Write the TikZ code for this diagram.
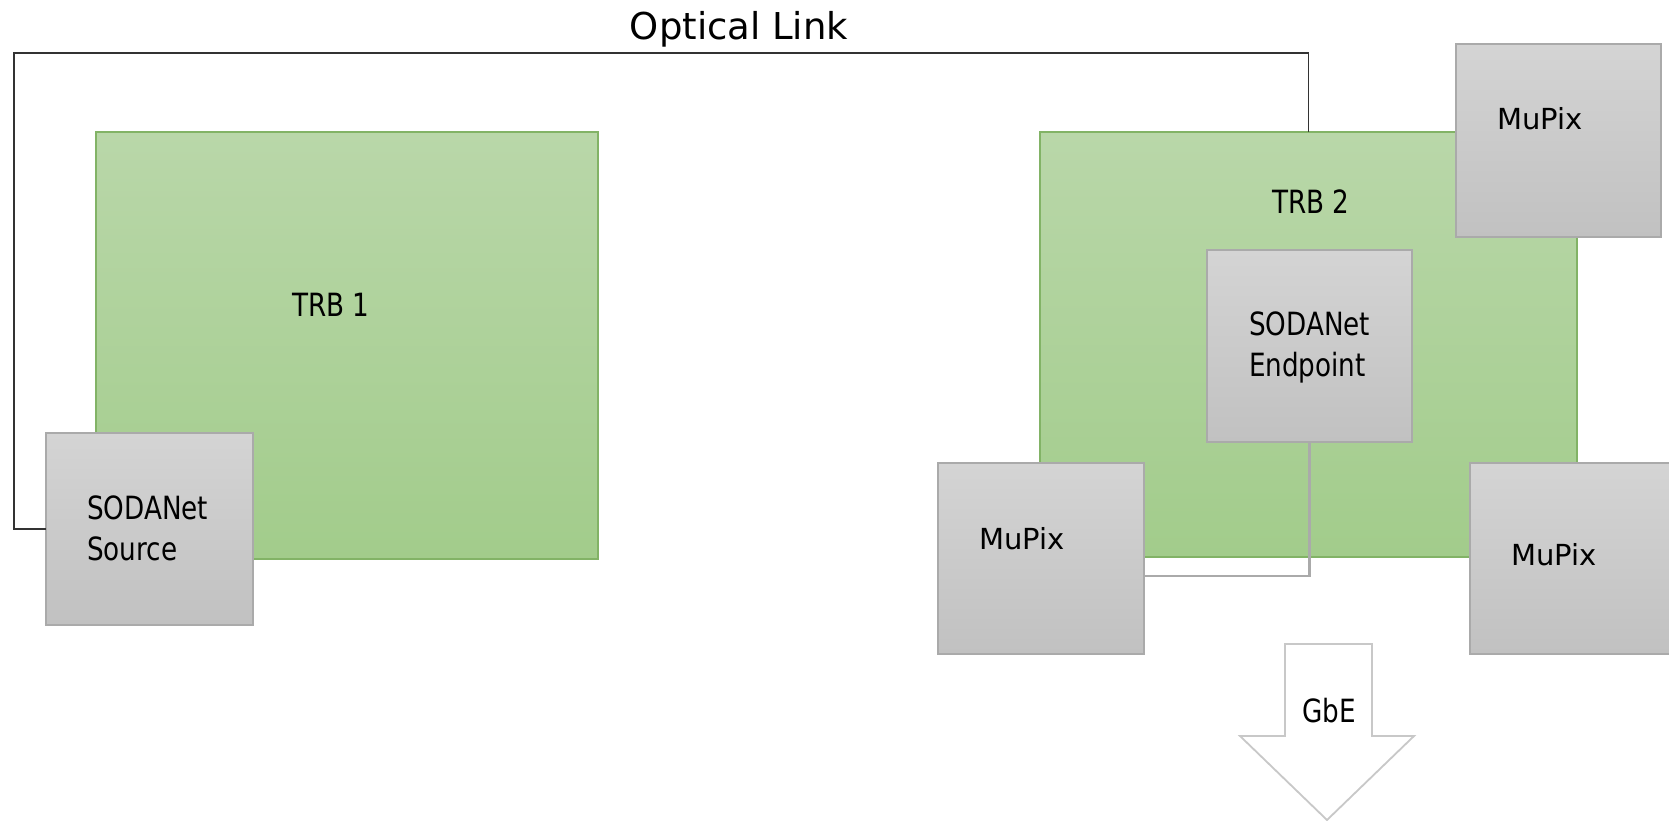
\documentclass[tikz,border=0pt]{standalone}
\usepackage{fontspec}
\setmainfont{DejaVu Sans}
\newfontfamily\condfont[FakeStretch=0.82]{DejaVu Sans}
\begin{document}
\begin{tikzpicture}[x=1pt,y=-1pt,
  trb/.style={draw=trbborder,line width=1.5pt,top color=trbtop,bottom color=trbbot,
    minimum width=#1,inner sep=0pt,outer sep=0pt},
  chip/.style={draw=chipborder,line width=1.8pt,top color=chiptop,bottom color=chipbot,
    inner sep=0pt,outer sep=0pt},
  lbl/.style={inner sep=0pt,outer sep=0pt,font=\condfont\fontsize{32}{41}\selectfont},
  mulbl/.style={inner sep=0pt,outer sep=0pt,font=\fontsize{29}{34}\selectfont},
  optline/.style={draw=black!80,line width=1.6pt},
  grayline/.style={draw=chipborder,line width=2.4pt},
]
\definecolor{trbtop}{HTML}{B9D7A9}
\definecolor{trbbot}{HTML}{A2CC8B}
\definecolor{trbborder}{HTML}{82B366}
\definecolor{chiptop}{HTML}{D4D4D4}
\definecolor{chipbot}{HTML}{C1C1C1}
\definecolor{chipborder}{HTML}{AAAAAA}
\definecolor{arrowborder}{HTML}{C8C8C8}

\useasboundingbox[fill=white] (0,0) rectangle (1669,821);

% TRB boards
\node[trb=502pt,minimum height=427pt] (trb1) at (347,345.5) {};
\node[trb=537pt,minimum height=425pt] (trb2) at (1308.5,344.5) {};

% SODANet source
\node[chip,minimum width=207pt,minimum height=192pt] (src) at (149.5,529) {};

% optical link
\coordinate (optcorner) at (14,53);
\draw[optline] (src.west) -| (optcorner) -| (trb2.north);
\node[inner sep=0pt,font=\fontsize{37}{42}\selectfont,anchor=base] (optlbl) at (739,40) {Optical Link};

% TRB labels
\node[lbl,anchor=base west] (trb1lbl) at (292,316) {TRB 1};
\node[lbl,anchor=base west] (trb2lbl) at (1272,213) {TRB 2};

% source label
\node[lbl,anchor=north west,align=left] (srclbl) at (87,496) {SODANet\\Source};

% endpoint
\node[chip,minimum width=205pt,minimum height=192pt] (ep) at (1309.5,346) {};
\node[lbl,anchor=north west,align=left] (eplbl) at (1249,312) {SODANet\\Endpoint};

% MuPix chips
\node[chip,minimum width=205pt,minimum height=193pt] (mptr) at (1558.5,140.5) {};
\node[mulbl,anchor=base west] (mptrlbl) at (1497,130) {MuPix};
\node[chip,minimum width=206pt,minimum height=191pt] (mpl) at (1041,558.5) {};
\node[mulbl,anchor=base west] (mpllbl) at (979,549) {MuPix};
\node[chip,minimum width=205pt,minimum height=191pt] (mpr) at (1572.5,558.5) {};
\node[mulbl,anchor=base west] (mprlbl) at (1511,565) {MuPix};

% endpoint to MuPix connector
\coordinate (epbend) at (1309.5,576);
\draw[grayline] (ep.south) |- (mpl.east |- epbend);

% GbE arrow
\draw[draw=arrowborder,line width=1.8pt,fill=white]
  (1285,644) -- (1372,644) -- (1372,736) -- (1414,736) -- (1327,820)
  -- (1240,736) -- (1285,736) -- cycle;
\node[lbl,anchor=base west] (gbe) at (1302,722) {GbE};
\end{tikzpicture}
\end{document}
